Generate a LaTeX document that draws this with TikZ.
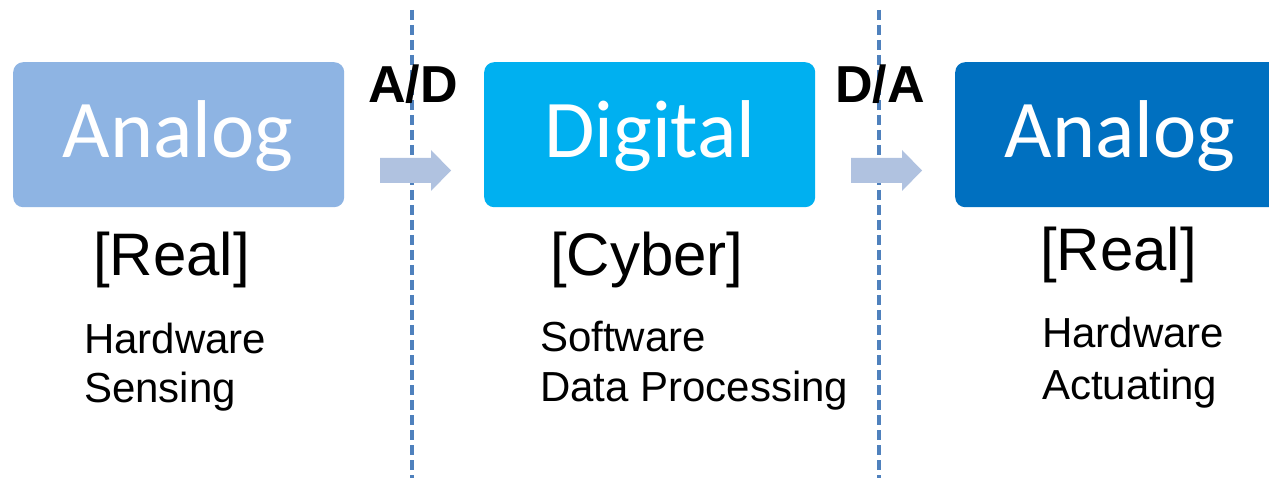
\documentclass[tikz,border=0pt]{standalone}
\usepackage{fontspec}
\setmainfont{Liberation Sans}
\newfontfamily\boxfont{Carlito}
\definecolor{boxA}{HTML}{8EB4E3}
\definecolor{boxB}{HTML}{00B0F0}
\definecolor{boxC}{HTML}{0070C0}
\definecolor{arrowc}{HTML}{B0C2E0}
\definecolor{dashc}{HTML}{4F81BD}
\begin{document}
\begin{tikzpicture}[x=1pt,y=-1pt,
  stagebox/.style={rounded corners=10pt, inner sep=0pt, minimum width=331pt, minimum height=145pt, anchor=north west},
  boxtext/.style={anchor=base, inner sep=0pt, text=white, font=\boxfont\fontsize{82}{90}\selectfont},
  realm/.style={anchor=base west, inner sep=0pt, font=\fontsize{60}{66}\selectfont},
  desc/.style={anchor=base west, inner sep=0pt, font=\fontsize{42}{47}\selectfont},
  conv/.style={anchor=base, inner sep=0pt, font=\bfseries\fontsize{52}{56}\selectfont},
  divider/.style={dashc, line width=3.5pt, dash pattern=on 10pt off 5pt},
  flow/.style={fill=arrowc, draw=none}
]
\useasboundingbox (0,0) rectangle (1269,478);
\clip (0,0) rectangle (1269,478);
\fill[white] (0,0) rectangle (1269,478);
% boxes
\node[stagebox, fill=boxA] (b1) at (13,62) {};
\node[stagebox, fill=boxB] (b2) at (484,62) {};
\node[stagebox, fill=boxC] (b3) at (955,62) {};
\node[boxtext] (t1) at (178,158) {Analog};
\node[boxtext] (t2) at (650,158) {Digital};
\node[boxtext] (t3) at (1120,158) {Analog};
% realm labels
\node[realm] (r1) at (93,276) {[Real]};
\node[realm] (r2) at (550,276) {[Cyber]};
\node[realm] (r3) at (1040,271) {[Real]};
% descriptions
\node[desc] (d1a) at (84,353) {Hardware};
\node[desc] (d1b) at (84,402) {Sensing};
\node[desc] (d2a) at (540,351) {Software};
\node[desc] (d2b) at (540,401) {Data Processing};
\node[desc] (d3a) at (1042,348) {Hardware};
\node[desc] (d3b) at (1042,399) {Actuating};
% dividers
\coordinate (v1t) at (412,10); \coordinate (v1b) at (412,478);
\coordinate (v2t) at (879,10); \coordinate (v2b) at (879,478);
\draw[divider] (v1t) -- (v1b);
\draw[divider] (v2t) -- (v2b);
% flow arrows
\fill[flow] (380,158) -- (431,158) -- (431,150) -- (451,170.5) -- (431,191) -- (431,183) -- (380,183) -- cycle;
\fill[flow] (851,158) -- (902,158) -- (902,150) -- (922,170.5) -- (902,191) -- (902,183) -- (851,183) -- cycle;
% conversion labels
\node[conv] (ad) at (413,103) {A/D};
\node[conv] (da) at (880,103) {D/A};
\end{tikzpicture}
\end{document}
